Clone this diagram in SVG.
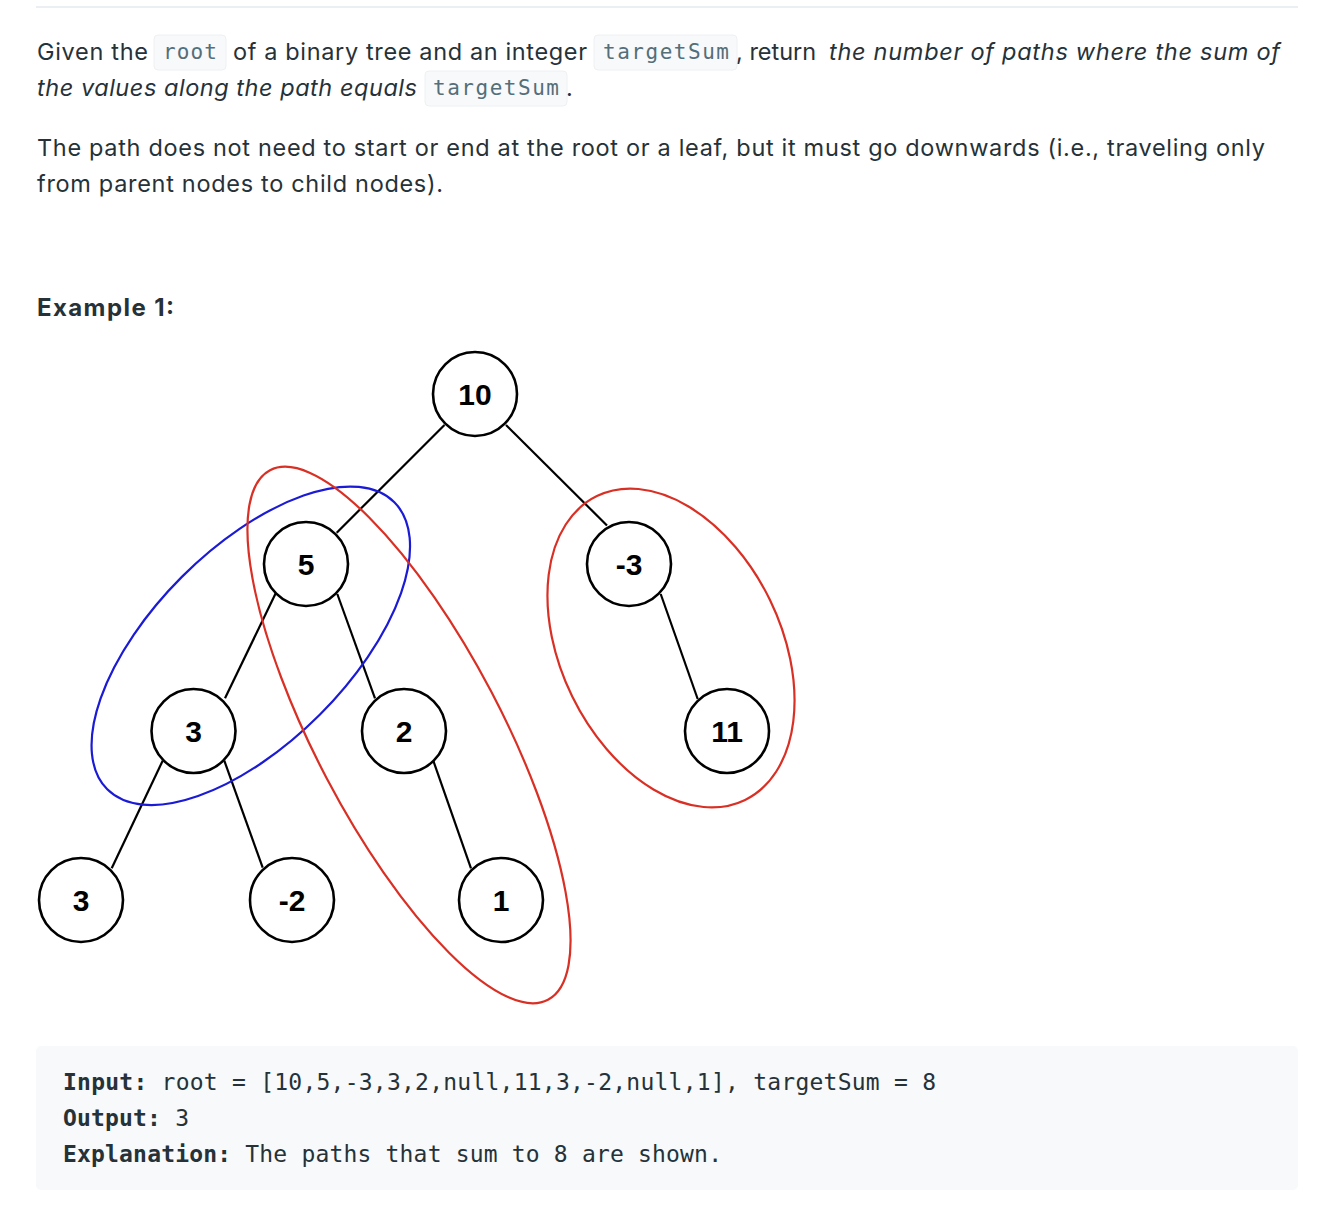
<svg xmlns="http://www.w3.org/2000/svg" width="1328" height="1218" viewBox="0 0 1328 1218">
<style>
.body{font-family:Inter,"Noto Sans","Liberation Sans",sans-serif;font-size:23.5px;fill:#263238}
.it{font-style:italic}
.ic{font-family:"DejaVu Sans Mono","Liberation Mono",monospace;font-size:21px;fill:#546e7a}
.icbg{fill:#f7f9fa;stroke:#eef0f2;stroke-width:1}
.h{font-family:Inter,"Noto Sans","Liberation Sans",sans-serif;font-size:24px;font-weight:700;fill:#263238}
.node circle{fill:#fff;stroke:#000;stroke-width:2.6}
.node text{font-family:"Liberation Sans",Arial,sans-serif;font-size:30px;font-weight:700;fill:#000;text-anchor:middle}
.edge{stroke:#000;stroke-width:2.2;fill:none}
.red{fill:none;stroke:#d93025;stroke-width:2.2}
.blue{fill:none;stroke:#1b1bd6;stroke-width:2.2}
.mono{font-family:"DejaVu Sans Mono","Liberation Mono",monospace;font-size:23px;fill:#263238}
.b{font-weight:700}
</style>
<rect x="0" y="0" width="1328" height="1218" fill="#fff"/>
<rect x="36" y="6" width="1262" height="2" fill="#eceff1"/>

<g id="text-intro">
<rect class="icbg" x="154" y="35" width="72" height="35" rx="4"/>
<rect class="icbg" x="594" y="35" width="143" height="35" rx="4"/>
<rect class="icbg" x="425" y="71" width="142" height="35" rx="4"/>
<text class="body" x="37" y="60" textLength="111">Given the</text>
<text class="ic" x="163" y="59" textLength="54">root</text>
<text class="body" x="233" y="60" textLength="354">of a binary tree and an integer</text>
<text class="ic" x="603" y="59" textLength="126">targetSum</text>
<text class="body" x="736" y="60">, return</text>
<text class="body it" x="829" y="60" textLength="451">the number of paths where the sum of</text>
<text class="body it" x="37" y="96" textLength="380">the values along the path equals</text>
<text class="ic" x="433" y="95" textLength="126">targetSum</text>
<text class="body" x="566" y="96">.</text>
<text class="body" x="37" y="156" textLength="1228">The path does not need to start or end at the root or a leaf, but it must go downwards (i.e., traveling only</text>
<text class="body" x="37" y="192" textLength="406">from parent nodes to child nodes).</text>
<text class="h" x="37" y="316" textLength="137">Example 1:</text>
</g>

<g id="connectors">
<line class="edge" x1="444.5" y1="425" x2="336.7" y2="532.7"/>
<line class="edge" x1="506" y1="425" x2="607" y2="525.5"/>
<line class="edge" x1="275.7" y1="593.3" x2="225" y2="698.3"/>
<line class="edge" x1="337.3" y1="594" x2="375" y2="698.3"/>
<line class="edge" x1="660.7" y1="594" x2="697.7" y2="699"/>
<line class="edge" x1="162.7" y1="760.7" x2="111.7" y2="868.3"/>
<line class="edge" x1="224.3" y1="760.7" x2="262.7" y2="867.7"/>
<line class="edge" x1="433.3" y1="760.7" x2="471" y2="868.3"/>
</g>

<g id="n10" class="node"><circle cx="475" cy="394" r="42"/><text x="475" y="405">10</text></g>
<g id="n5" class="node"><circle cx="306" cy="564" r="42"/><text x="306" y="575">5</text></g>
<g id="nm3" class="node"><circle cx="629" cy="564" r="42"/><text x="629" y="575">-3</text></g>
<g id="n3a" class="node"><circle cx="193.5" cy="731" r="42"/><text x="193.5" y="742">3</text></g>
<g id="n2" class="node"><circle cx="404" cy="731" r="42"/><text x="404" y="742">2</text></g>
<g id="n11" class="node"><circle cx="727" cy="731" r="42"/><text x="727" y="742">11</text></g>
<g id="n3b" class="node"><circle cx="81" cy="900" r="42"/><text x="81" y="911">3</text></g>
<g id="nm2" class="node"><circle cx="292" cy="900" r="42"/><text x="292" y="911">-2</text></g>
<g id="n1" class="node"><circle cx="501" cy="900" r="42"/><text x="501" y="911">1</text></g>

<g id="paths">
<ellipse class="blue" cx="250.8" cy="645.8" rx="203" ry="97.5" transform="rotate(-45 250.8 645.8)"/>
<ellipse class="red" cx="409" cy="735" rx="299" ry="93" transform="rotate(62.3 409 735)"/>
<ellipse class="red" cx="671" cy="648" rx="169" ry="110" transform="rotate(64 671 648)"/>
</g>

<g id="example-io">
<rect x="36" y="1046" width="1262" height="144" rx="5" fill="#f7f9fa"/>
<text class="mono" x="63" y="1090" textLength="873"><tspan class="b">Input:</tspan> root = [10,5,-3,3,2,null,11,3,-2,null,1], targetSum = 8</text>
<text class="mono" x="63" y="1126" textLength="126"><tspan class="b">Output:</tspan> 3</text>
<text class="mono" x="63" y="1162" textLength="659"><tspan class="b">Explanation:</tspan> The paths that sum to 8 are shown.</text>
</g>
</svg>
